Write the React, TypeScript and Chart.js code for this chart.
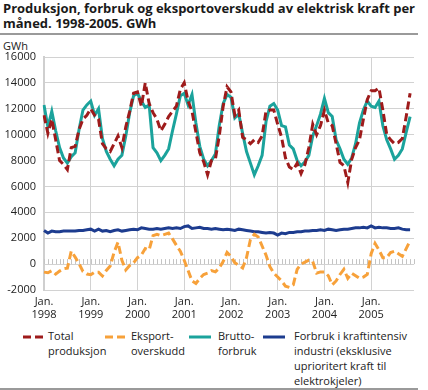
import React, { useEffect, useRef } from "react";
import { Chart, registerables } from "chart.js";
Chart.register(...registerables);

const startYear = 1998;
const monthCount = 96; // Jan 1998 - Dec 2005 axis
const monthLabels: string[] = Array.from({ length: monthCount }, (_, i) => `${startYear + Math.floor(i / 12)}-${(i % 12) + 1}`);

const yTicks = [-2000, 0, 2000, 4000, 6000, 8000, 10000, 12000, 14000, 16000];

const totalProduksjon = [
  11500, 10100, 11200, 9600, 8000, 7700, 7300, 9000, 9100, 10400, 11200, 11500,
  12000, 11500, 11200, 9300, 8900, 8700, 9300, 9900, 9000, 10600, 11800, 13200,
  13300, 12200, 14000, 12400, 11700, 11200, 10300, 10800, 11400, 11800, 12200, 13500,
  14000, 12600, 11800, 10200, 8600, 7900, 6900, 8000, 8100, 9900, 12200, 13700,
  13300, 11500, 11900, 9800, 9600, 9300, 9600, 9400, 9900, 11800, 11900, 11900,
  10800, 9800, 8200, 7500, 7300, 7800, 7000, 7700, 9000, 10800, 10000, 10700,
  11900, 10900, 10700, 9300, 7850, 7600, 6300, 8100, 9000, 9600, 11200, 12700,
  13400, 13400, 13600, 11900, 10000, 9600, 9300, 9400, 9700, 11400, 13200,
];

const eksportoverskudd = [
  -620, -670, -510, -770, -540, -360, -310, 1000, 540, 30, -560, -770,
  -820, -620, -620, -920, -490, -150, 920, 1690, 300, -450, -100, 100,
  500, 700, 1200, 1100, 2200, 2300, 2200, 2300, 2400, 1950, 1450, 1000,
  300, -500, -1300, -1500, -1100, -800, -700, -500, -600, -300, 200, 900,
  600, 100, -100, -300, 500, 1900, 2300, 2100, 1400, 700, -200, -700,
  -1000, -1300, -1700, -1800, -1600, -400, 0, 150, 300, 200, -700, -600,
  -600, -900, -1600, -1300, -800, -400, -1100, -700, -900, -1100, -1000, -800,
  800, 1600, 1100, 500, 500, 900, 1000, 800, 600, 1200, 1800,
];

const bruttoforbruk = [
  12300, 10600, 11800, 10300, 9000, 8200, 7800, 8300, 8600, 10400, 11900, 12300,
  12600, 11500, 12000, 9700, 8700, 8100, 7600, 8100, 8400, 9900, 11700, 13000,
  13200, 12600, 12100, 12300, 9000, 8600, 8000, 8400, 8900, 10300, 11600, 13000,
  13200, 12300, 13100, 10900, 9100, 8100, 7600, 8000, 8500, 10700, 12400, 13100,
  12900, 11300, 11600, 10100, 8700, 7800, 6900, 7600, 8400, 11000, 12200, 12400,
  11900, 10700, 10600, 9200, 8900, 8000, 7600, 7900, 8400, 9900, 10700, 11600,
  12800, 11700, 11400, 9600, 8900, 8100, 7700, 8200, 9300, 10900, 11900, 12600,
  12200, 12100, 12600, 10700, 9600, 8900, 8100, 8400, 8900, 10200, 11400,
];

const kraftintensivIndustri = [
  2600, 2400, 2550, 2500, 2500, 2550, 2550, 2550, 2550, 2600, 2600, 2650,
  2700, 2550, 2700, 2550, 2600, 2500, 2600, 2650, 2550, 2600, 2650, 2700,
  2650, 2800, 2750, 2700, 2700, 2750, 2700, 2750, 2800, 2750, 2800, 2750,
  2900, 2950, 2750, 2800, 2850, 2750, 2750, 2700, 2750, 2700, 2650, 2700,
  2650, 2600, 2700, 2650, 2600, 2550, 2500, 2500, 2450, 2400, 2450, 2400,
  2250, 2400, 2350, 2450, 2450, 2500, 2500, 2550, 2550, 2600, 2600, 2650,
  2600, 2700, 2650, 2600, 2650, 2700, 2700, 2750, 2800, 2800, 2850, 2800,
  2950, 2800, 2850, 2800, 2800, 2750, 2750, 2800, 2700, 2650, 2650,
];

const RED = "#9e1b1b";
const ORANGE = "#f7a13a";
const TEAL = "#1ba39c";
const BLUE = "#1d3c8f";
const FONT = "'Open Sans', sans-serif";
const TEXT = "#222";

const zeroHatch = {
  id: "zeroHatch",
  beforeDatasetsDraw(chart: any) {
    const { ctx, scales } = chart;
    const x = scales.x;
    const y = scales.y;
    const y0 = y.getPixelForValue(0);
    ctx.save();
    ctx.strokeStyle = "#c4c4c4";
    ctx.lineWidth = 1;
    for (let i = 0; i < monthLabels.length; i++) {
      const px = Math.round(x.getPixelForValue(i)) + 0.5;
      ctx.beginPath();
      ctx.moveTo(px, y0 - 5);
      ctx.lineTo(px, y0);
      ctx.stroke();
    }
    ctx.restore();
  },
};

function LegendLine({ color, dashed }: { color: string; dashed: boolean }) {
  return (
    <svg width={22} height={6} style={{ display: "block" }}>
      <line x1={0} y1={3} x2={22} y2={3} stroke={color} strokeWidth={3} strokeDasharray={dashed ? "8 4" : undefined} />
    </svg>
  );
}

const legendItems = [
  { color: RED, dashed: true, lines: ["Total", "produksjon"], x: 23, tx: 48 },
  { color: ORANGE, dashed: true, lines: ["Eksport-", "overskudd"], x: 105, tx: 131 },
  { color: TEAL, dashed: false, lines: ["Brutto-", "forbruk"], x: 189, tx: 218 },
  { color: BLUE, dashed: false, lines: ["Forbruk i kraftintensiv", "industri (eksklusive", "uprioritert kraft til", "elektrokjeler)"], x: 263, tx: 294 },
];

export default function App() {
  const canvasRef = useRef<HTMLCanvasElement | null>(null);

  useEffect(() => {
    const canvas = canvasRef.current;
    if (!canvas) return;
    const chart = new Chart(canvas, {
      type: "line",
      data: {
        labels: monthLabels,
        datasets: [
          { label: "Total produksjon", data: totalProduksjon, borderColor: RED, borderWidth: 3, borderDash: [8, 4], pointRadius: 0, tension: 0, fill: false },
          { label: "Eksportoverskudd", data: eksportoverskudd, borderColor: ORANGE, borderWidth: 3, borderDash: [8, 4], pointRadius: 0, tension: 0, fill: false },
          { label: "Bruttoforbruk", data: bruttoforbruk, borderColor: TEAL, borderWidth: 3, pointRadius: 0, tension: 0, fill: false },
          { label: "Forbruk i kraftintensiv industri", data: kraftintensivIndustri, borderColor: BLUE, borderWidth: 3, pointRadius: 0, tension: 0, fill: false },
        ],
      },
      options: {
        animation: false,
        responsive: false,
        devicePixelRatio: 1,
        layout: { padding: { left: 0, right: 14, top: 21, bottom: 0 } },
        plugins: { legend: { display: false }, tooltip: { enabled: false } },
        scales: {
          x: {
            type: "category",
            offset: false,
            afterFit: (s: any) => { s.height = 36; },
            grid: {
              drawTicks: false,
              color: (c: any) => (c.index % 12 === 0 ? "#d2d2d2" : "rgba(0,0,0,0)"),
              lineWidth: 1,
            },
            border: { display: false },
            ticks: {
              autoSkip: false,
              maxRotation: 0,
              minRotation: 0,
              padding: 5,
              color: TEXT,
              font: { family: FONT, size: 11, lineHeight: 1.2 },
              callback: (_v: any, i: number) => (i % 12 === 0 ? ["Jan.", String(startYear + i / 12)] : ""),
            },
          },
          y: {
            min: yTicks[0],
            max: yTicks[yTicks.length - 1],
            afterFit: (s: any) => { s.width = 44; },
            afterBuildTicks: (s: any) => { s.ticks = yTicks.map((v) => ({ value: v })); },
            grid: { drawTicks: false, color: "#d2d2d2", lineWidth: 1 },
            border: { display: true, color: "#cfcfcf", width: 2 },
            ticks: {
              padding: 8,
              color: TEXT,
              font: { family: FONT, size: 11 },
              callback: (v: any) => String(v),
            },
          },
        },
      },
      plugins: [zeroHatch],
    });
    return () => chart.destroy();
  }, []);

  return (
    <div style={{ position: "absolute", left: 0, top: 0, width: 428, height: 390, background: "#fff", fontFamily: FONT, color: TEXT, overflow: "hidden" }}>
      <div style={{ position: "absolute", left: 3, top: 1, fontWeight: 700, fontSize: 13, lineHeight: "15px", color: "#1a1a1a", whiteSpace: "nowrap" }}>
        Produksjon, forbruk og eksportoverskudd av elektrisk kraft per
        <br />
        måned. 1998-2005. GWh
      </div>
      <div style={{ position: "absolute", left: 0, top: 33, width: 418, height: 2, background: "#9a9a9a" }} />
      <div style={{ position: "absolute", left: 3, top: 39, fontSize: 11, lineHeight: "14px" }}>GWh</div>
      <canvas ref={canvasRef} width={428} height={290} style={{ position: "absolute", left: 0, top: 36, width: 428, height: 290 }} />
      {legendItems.map((it, k) => (
        <div key={k}>
          <div style={{ position: "absolute", left: it.x, top: 334 }}>
            <LegendLine color={it.color} dashed={it.dashed} />
          </div>
          <div style={{ position: "absolute", left: it.tx, top: 328, fontSize: 11, lineHeight: "15px", whiteSpace: "nowrap" }}>
            {it.lines.map((l, j) => (
              <div key={j}>{l}</div>
            ))}
          </div>
        </div>
      ))}
      <div style={{ position: "absolute", left: 0, top: 388, width: 418, height: 2, background: "#9a9a9a" }} />
    </div>
  );
}
